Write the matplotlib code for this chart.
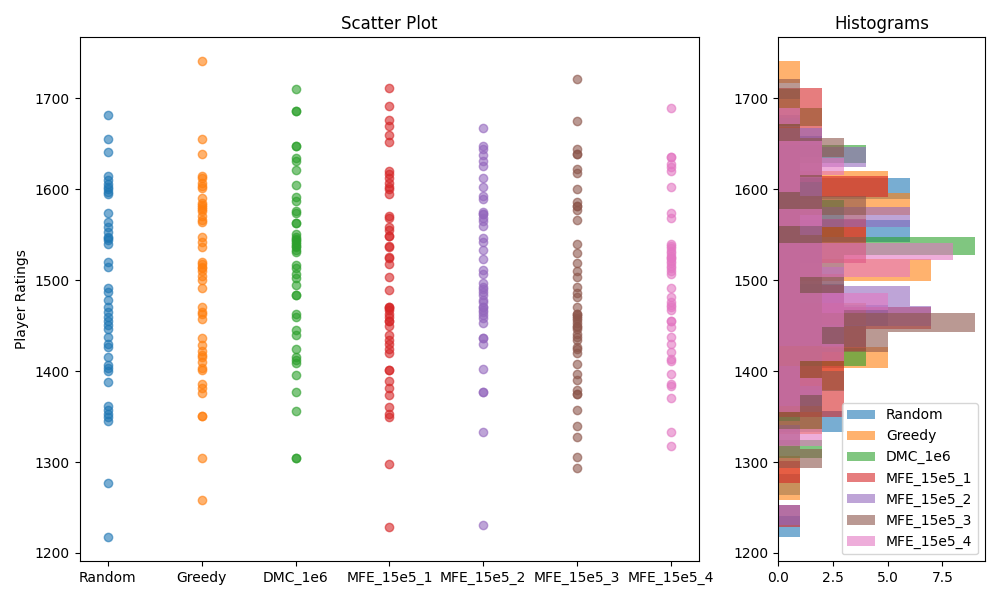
import matplotlib
matplotlib.use('Agg')
import matplotlib.pyplot as plt

names = ['Random', 'Greedy', 'DMC_1e6', 'MFE_15e5_1', 'MFE_15e5_2', 'MFE_15e5_3', 'MFE_15e5_4']

random_ratings = [1682, 1655, 1641, 1615, 1610, 1606, 1602, 1600, 1597, 1595, 1574, 1564, 1559, 1553,
                  1548, 1546, 1544, 1540, 1520, 1515, 1491, 1487, 1478, 1471, 1465, 1460, 1455, 1451,
                  1446, 1438, 1430, 1427, 1416, 1407, 1403, 1400, 1388, 1362, 1357, 1353, 1349, 1345,
                  1277, 1217]
greedy_ratings = [1741, 1655, 1639, 1615, 1612, 1607, 1604, 1601, 1590, 1585, 1583, 1581, 1578, 1576,
                  1571, 1566, 1564, 1548, 1542, 1537, 1520, 1518, 1515, 1513, 1510, 1505, 1500, 1491,
                  1471, 1465, 1463, 1457, 1436, 1429, 1422, 1418, 1416, 1410, 1403, 1401, 1386, 1381,
                  1376, 1351, 1351, 1304, 1258]
dmc_ratings = [1710, 1686, 1686, 1648, 1648, 1635, 1631, 1621, 1605, 1592, 1587, 1576, 1574, 1563,
               1563, 1551, 1547, 1545, 1544, 1542, 1540, 1538, 1536, 1533, 1531, 1517, 1513, 1507,
               1502, 1495, 1484, 1484, 1463, 1460, 1445, 1440, 1424, 1415, 1412, 1409, 1396, 1377,
               1356, 1304, 1304]
mfe1_ratings = [1712, 1692, 1676, 1670, 1660, 1652, 1620, 1617, 1613, 1607, 1603, 1600, 1595, 1571,
                1568, 1559, 1555, 1549, 1549, 1538, 1536, 1526, 1524, 1518, 1503, 1489, 1471, 1471,
                1469, 1467, 1463, 1460, 1455, 1455, 1450, 1440, 1434, 1430, 1424, 1420, 1401, 1401,
                1389, 1381, 1374, 1360, 1353, 1350, 1298, 1228]
mfe2_ratings = [1668, 1648, 1644, 1638, 1631, 1626, 1612, 1603, 1593, 1589, 1575, 1573, 1573, 1568,
                1565, 1560, 1546, 1542, 1533, 1523, 1511, 1507, 1497, 1493, 1490, 1487, 1484, 1478,
                1476, 1471, 1471, 1467, 1465, 1462, 1458, 1453, 1436, 1436, 1430, 1402, 1377, 1377,
                1333, 1231]
mfe3_ratings = [1721, 1675, 1644, 1639, 1639, 1622, 1618, 1600, 1586, 1582, 1582, 1577, 1566, 1540,
                1530, 1519, 1510, 1503, 1492, 1486, 1482, 1471, 1463, 1463, 1461, 1458, 1456, 1453,
                1450, 1448, 1446, 1441, 1437, 1434, 1427, 1424, 1420, 1408, 1397, 1390, 1379, 1375,
                1375, 1357, 1340, 1328, 1305, 1293]
mfe4_ratings = [1690, 1636, 1636, 1628, 1625, 1620, 1603, 1574, 1568, 1540, 1538, 1535, 1532, 1530,
                1527, 1524, 1524, 1521, 1519, 1516, 1513, 1510, 1507, 1491, 1482, 1476, 1473, 1471,
                1467, 1455, 1455, 1449, 1437, 1430, 1421, 1413, 1411, 1397, 1386, 1384, 1370, 1333,
                1318]

all_ratings = [random_ratings, greedy_ratings, dmc_ratings, mfe1_ratings,
               mfe2_ratings, mfe3_ratings, mfe4_ratings]

fig, (ax1, ax2) = plt.subplots(1, 2, figsize=(10, 6), gridspec_kw={'width_ratios': [3, 1]})

for name, ratings in zip(names, all_ratings):
    ax1.scatter([name] * len(ratings), ratings, alpha=0.6)
ax1.set_title('Scatter Plot')
ax1.set_ylabel('Player Ratings')

for name, ratings in zip(names, all_ratings):
    ax2.hist(ratings, bins=20, orientation='horizontal', alpha=0.6, label=name)
ax2.set_title('Histograms')
ax2.set_ylim(ax1.get_ylim())
ax2.legend()

plt.tight_layout()
plt.savefig('out.png')
